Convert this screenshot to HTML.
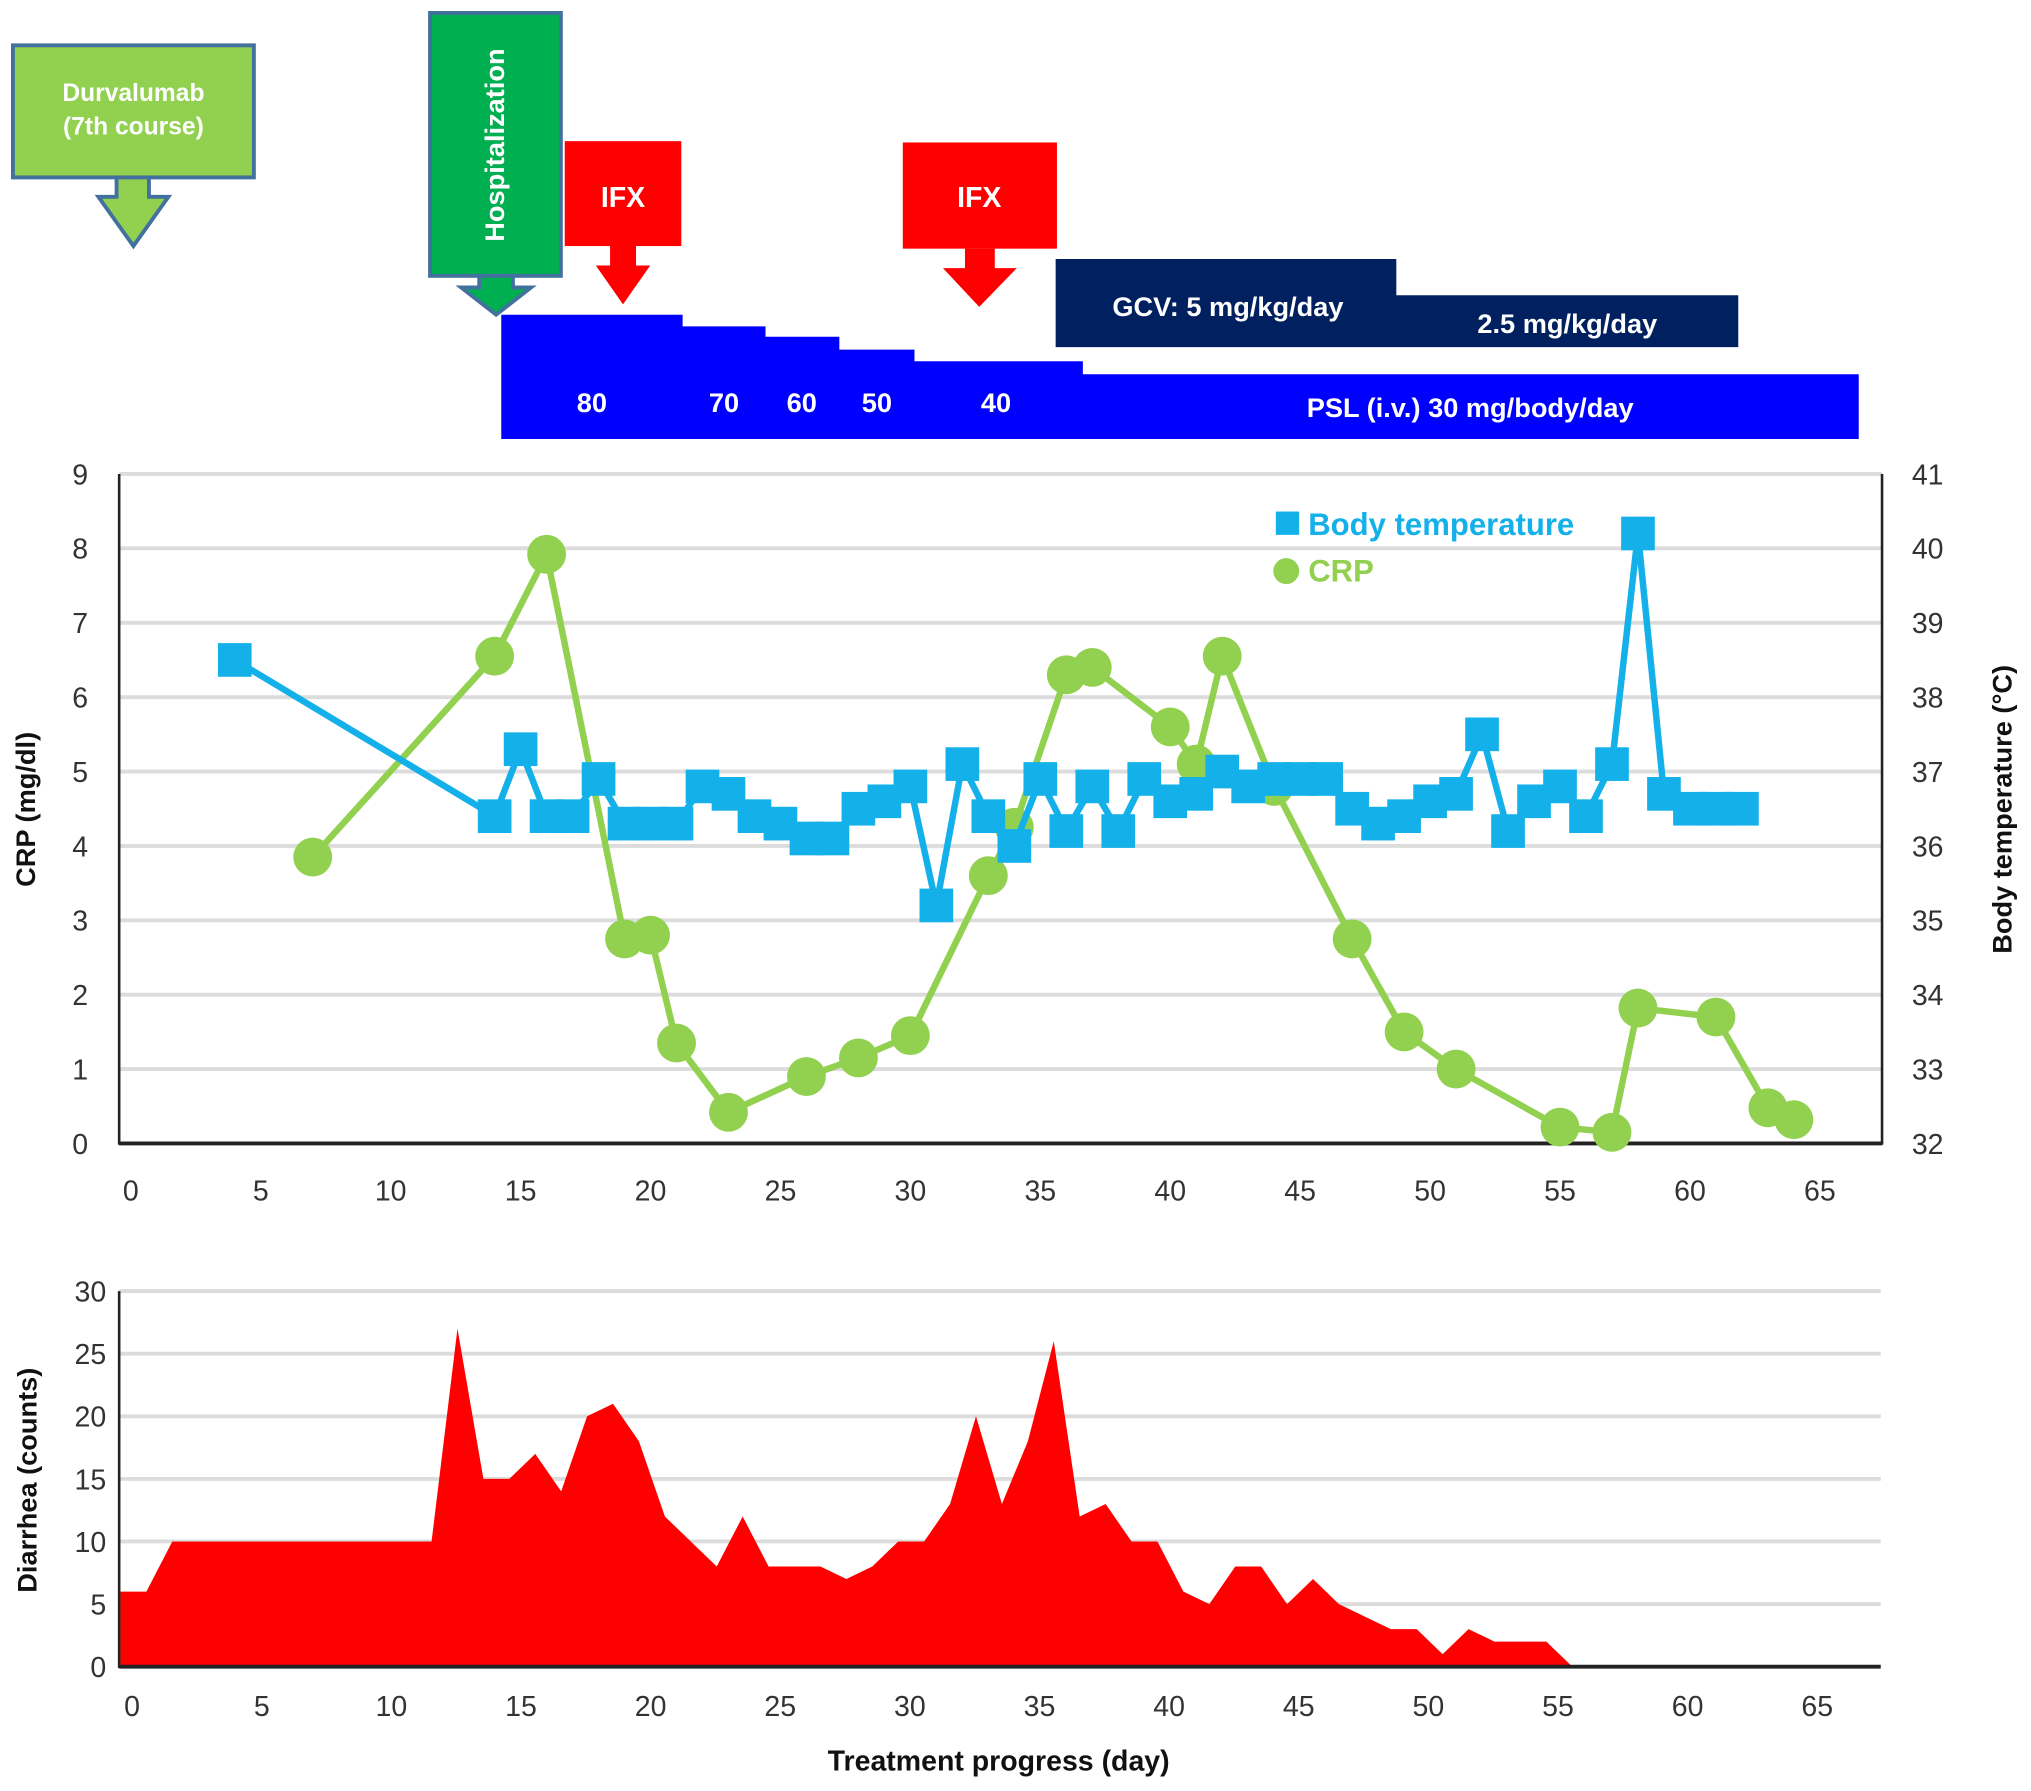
<!DOCTYPE html>
<html><head><meta charset="utf-8"><style>
html,body{margin:0;padding:0;background:#fff}
svg{display:block}
text{font-family:"Liberation Sans",sans-serif}
</style></head><body>
<svg id="fig" width="2031" height="1791" viewBox="0 0 1568 1383" preserveAspectRatio="none" xmlns="http://www.w3.org/2000/svg">
<g>
  <g>
    <rect x="10" y="35" width="186" height="102" fill="#92d050" stroke="#41719c" stroke-width="3"/>
    <polygon points="90,137 115,137 115,152 130,152 103,190 76,152 90,152" fill="#92d050" stroke="#41719c" stroke-width="3"/>
    <text x="103" y="78" font-size="19" font-weight="bold" fill="#fff" text-anchor="middle">Durvalumab</text>
    <text x="103" y="104" font-size="19" font-weight="bold" fill="#fff" text-anchor="middle">(7th course)</text>
  </g>
  <g>
    <rect x="332" y="10" width="101" height="203" fill="#00b050" stroke="#41719c" stroke-width="3"/>
    <polygon points="370,213 396,213 396,222 410,222 383,243 356,222 370,222" fill="#00b050" stroke="#41719c" stroke-width="3"/>
    <text transform="translate(389,112) rotate(-90)" font-size="21" font-weight="bold" fill="#fff" text-anchor="middle">Hospitalization</text>
  </g>
  <g>
    <rect x="436" y="109" width="90" height="81" fill="#ff0000"/>
    <polygon points="471,190 491,190 491,205 502,205 481,235 460,205 471,205" fill="#ff0000"/>
    <text x="481" y="160" font-size="22" font-weight="bold" fill="#fff" text-anchor="middle">IFX</text>
  </g>
  <g>
    <rect x="697" y="110" width="119" height="82" fill="#ff0000"/>
    <polygon points="745,192 768,192 768,207 785,207 756,237 728,207 745,207" fill="#ff0000"/>
    <text x="756" y="160" font-size="22" font-weight="bold" fill="#fff" text-anchor="middle">IFX</text>
  </g>
  <g>
    <polygon points="815,200 1078,200 1078,228 1342,228 1342,268 815,268" fill="#002060"/>
    <text x="948" y="244" font-size="21" font-weight="bold" fill="#fff" text-anchor="middle">GCV: 5 mg/kg/day</text>
    <text x="1210" y="257" font-size="21" font-weight="bold" fill="#fff" text-anchor="middle">2.5 mg/kg/day</text>
  </g>
  <g>
    <polygon points="387,243 527,243 527,252 591,252 591,260 648,260 648,270 706,270 706,279 836,279 836,289 1435,289 1435,339 387,339" fill="#0000ff"/>
    <g font-size="21" font-weight="bold" fill="#fff" text-anchor="middle">
      <text x="457" y="318">80</text><text x="559" y="318">70</text><text x="619" y="318">60</text><text x="677" y="318">50</text><text x="769" y="318">40</text>
      <text x="1135" y="322">PSL (i.v.) 30 mg/body/day</text>
    </g>
  </g>
</g>
<g id="topChart"></g>
<g id="botChart"></g>
</svg>
<script>
// ---- top chart data ----
const tempDays = [4,14,15,16,17,18,19,20,21,22,23,24,25,26,27,28,29,30,31,32,33,34,35,36,37,38,39,40,41,42,43,44,45,46,47,48,49,50,51,52,53,54,55,56,57,58,59,60,61,62];
const tempValues = [38.5,36.4,37.3,36.4,36.4,36.9,36.3,36.3,36.3,36.8,36.7,36.4,36.3,36.1,36.1,36.5,36.6,36.8,35.2,37.1,36.4,36.0,36.9,36.2,36.8,36.2,36.9,36.6,36.7,37.0,36.8,36.9,36.9,36.9,36.5,36.3,36.4,36.6,36.7,37.5,36.2,36.6,36.8,36.4,37.1,40.2,36.7,36.5,36.5,36.5];
const crpDays = [7,14,16,19,20,21,23,26,28,30,33,34,36,37,40,41,42,44,47,49,51,55,57,58,61,63,64];
const crpValues = [3.85,6.55,7.92,2.75,2.8,1.35,0.42,0.9,1.15,1.45,3.6,4.25,6.3,6.4,5.6,5.1,6.55,4.8,2.75,1.5,1.0,0.22,0.15,1.82,1.7,0.48,0.32];
const xTicks = [0,5,10,15,20,25,30,35,40,45,50,55,60,65];
const crpTicks = [0,1,2,3,4,5,6,7,8,9];
const tempTicks = [32,33,34,35,36,37,38,39,40,41];
// ---- bottom chart data ----
const diarrheaDays = [-0.45,0.55,1.55,2.55,3.55,4.55,5.55,6.55,7.55,8.55,9.55,10.55,11.55,12.55,13.55,14.55,15.55,16.55,17.55,18.55,19.55,20.55,21.55,22.55,23.55,24.55,25.55,26.55,27.55,28.55,29.55,30.55,31.55,32.55,33.55,34.55,35.55,36.55,37.55,38.55,39.55,40.55,41.55,42.55,43.55,44.55,45.55,46.55,47.55,48.55,49.55,50.55,51.55,52.55,53.55,54.55,55.55,67.45];
const diarrheaCounts = [6,6,10,10,10,10,10,10,10,10,10,10,10,27,15,15,17,14,20,21,18,12,10,8,12,8,8,8,7,8,10,10,13,20,13,18,26,12,13,10,10,6,5,8,8,5,7,5,4,3,3,1,3,2,2,2,0,0];
const diarrheaTicks = [0,5,10,15,20,25,30];

const NS='http://www.w3.org/2000/svg';
function mk(parent,tag,attrs,txt){const e=document.createElementNS(NS,tag);for(const k in attrs)e.setAttribute(k,attrs[k]);if(txt!==undefined)e.textContent=txt;parent.appendChild(e);return e;}

// top axes
const tx=d=>101+d*(1405-101)/65;
const ty=v=>883-v*(883-366)/9;
const tt=v=>883-(v-32)*(883-366)/9;
const topG=document.getElementById('topChart');
crpTicks.forEach(v=>{
  if(v>0){const g=mk(topG,'line',{x1:92,x2:1453,y1:ty(v),y2:ty(v),stroke:'#dcdcdc','stroke-width':3});
  
  }
  const t=mk(topG,'text',{x:68,y:ty(v)+8,'font-size':22,fill:'#333','text-anchor':'end'},v);
  
  
});
tempTicks.forEach(v=>{
  const t=mk(topG,'text',{x:1476,y:tt(v)+8,'font-size':22,fill:'#333'},v);
  
  
});
xTicks.forEach(v=>{
  const t=mk(topG,'text',{x:tx(v),y:927,'font-size':22,fill:'#333','text-anchor':'middle'},v);
  
  
});
let a=mk(topG,'line',{x1:92,x2:92,y1:366,y2:884,stroke:'#222','stroke-width':2});


a=mk(topG,'line',{x1:1453,x2:1453,y1:366,y2:884,stroke:'#222','stroke-width':2});


a=mk(topG,'line',{x1:92,x2:1453,y1:883,y2:883,stroke:'#222','stroke-width':3});


a=mk(topG,'text',{transform:'translate(27,625) rotate(-90)','font-size':21,'font-weight':'bold',fill:'#111','text-anchor':'middle'},'CRP (mg/dl)');


a=mk(topG,'text',{transform:'translate(1553,625) rotate(-90)','font-size':21,'font-weight':'bold',fill:'#111','text-anchor':'middle'},'Body temperature (°C)');



// CRP series
const green='#92d050', blue='#14b0ea';
let l=mk(topG,'polyline',{points:crpDays.map((d,i)=>tx(d)+','+ty(crpValues[i])).join(' '),fill:'none',stroke:green,'stroke-width':5,'stroke-linejoin':'round'});


crpDays.forEach((d,i)=>{
  const c=mk(topG,'circle',{cx:tx(d),cy:ty(crpValues[i]),r:15,fill:green});
  
  
});
// temperature series
l=mk(topG,'polyline',{points:tempDays.map((d,i)=>tx(d)+','+tt(tempValues[i])).join(' '),fill:'none',stroke:blue,'stroke-width':5,'stroke-linejoin':'round'});


tempDays.forEach((d,i)=>{
  const s=mk(topG,'rect',{x:tx(d)-13,y:tt(tempValues[i])-13,width:26,height:26,fill:blue});
  
  
});
// legend
let lg=mk(topG,'rect',{x:985,y:395,width:18,height:18,fill:blue});


lg=mk(topG,'text',{x:1010,y:413,'font-size':24,'font-weight':'bold',fill:blue},'Body temperature');


lg=mk(topG,'circle',{cx:993,cy:441,r:10,fill:green});


lg=mk(topG,'text',{x:1010,y:449,'font-size':24,'font-weight':'bold',fill:green},'CRP');



// bottom chart
const bx=d=>102+d*(1403-102)/65;
const by=v=>1287-v*(1287-997)/30;
const botG=document.getElementById('botChart');
diarrheaTicks.forEach(v=>{
  if(v>0){const g=mk(botG,'line',{x1:92,x2:1452,y1:by(v),y2:by(v),stroke:'#dcdcdc','stroke-width':3});
  
  }
  const t=mk(botG,'text',{x:82,y:by(v)+8,'font-size':22,fill:'#333','text-anchor':'end'},v);
  
  
});
xTicks.forEach(v=>{
  const t=mk(botG,'text',{x:bx(v),y:1325,'font-size':22,fill:'#333','text-anchor':'middle'},v);
  
  
});
const pts=[bx(diarrheaDays[0])+','+by(0)].concat(diarrheaDays.map((d,i)=>bx(d)+','+by(diarrheaCounts[i]))).concat([bx(diarrheaDays[diarrheaDays.length-1])+','+by(0)]);
let ar=mk(botG,'polygon',{points:pts.join(' '),fill:'#ff0000'});


a=mk(botG,'line',{x1:92,x2:92,y1:997,y2:1288,stroke:'#222','stroke-width':2});


a=mk(botG,'line',{x1:92,x2:1452,y1:1287,y2:1287,stroke:'#222','stroke-width':3});


a=mk(botG,'text',{transform:'translate(28,1143) rotate(-90)','font-size':21,'font-weight':'bold',fill:'#111','text-anchor':'middle'},'Diarrhea (counts)');


a=mk(botG,'text',{x:771,y:1367,'font-size':22,'font-weight':'bold',fill:'#111','text-anchor':'middle'},'Treatment progress (day)');


</script>
</body></html>
